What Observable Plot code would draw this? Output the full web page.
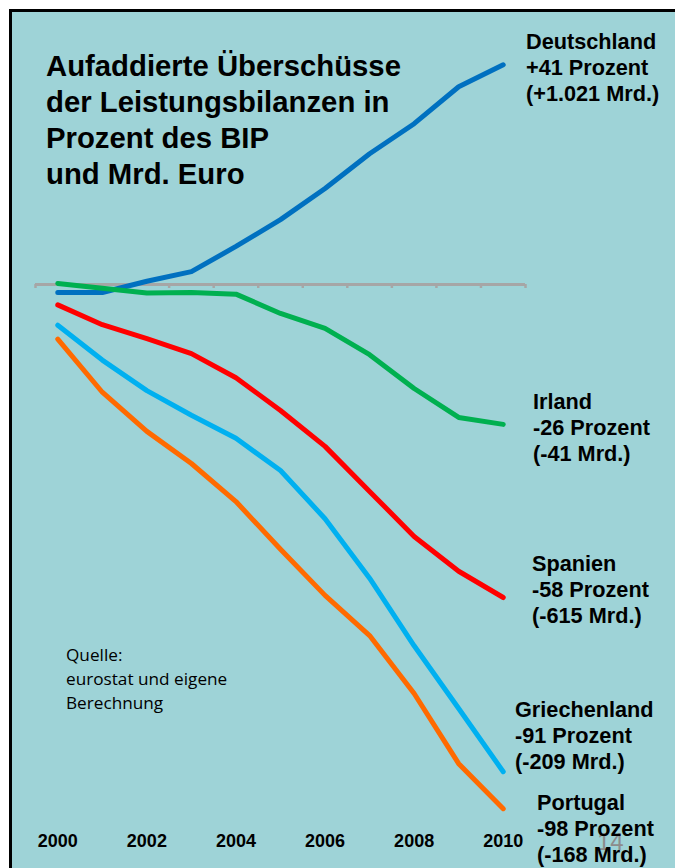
<!DOCTYPE html>
<html>
<head>
<meta charset="utf-8">
<script src="https://cdn.jsdelivr.net/npm/d3@7"></script>
<script src="https://cdn.jsdelivr.net/npm/@observablehq/plot@0.6"></script>
<style>
  html, body { margin: 0; padding: 0; width: 675px; height: 868px; overflow: hidden; background: #ffffff; }
  #frame { position: absolute; left: 9px; top: 9px; width: 720px; height: 920px; border: 3px solid #000; background: #9ed3d7; }
  #chart { position: absolute; left: 0; top: 0; }
  .t { position: absolute; white-space: nowrap; color: #000; font-family: "Liberation Sans", Arial, sans-serif; }
  .title { font-weight: bold; font-size: 29.3px; line-height: 36px; left: 46px; top: 47.5px; }
  .lab { font-weight: bold; font-size: 21.7px; line-height: 26px; }
  .src { font-family: "Open Sans", sans-serif; font-size: 17.2px; line-height: 24px; left: 66px; top: 643px; }
  .page { font-size: 24px; line-height: 24px; color: #8c8c8c; left: 597px; top: 830px; }
</style>
</head>
<body>
<div id="frame"></div>
<div class="t page">14</div>
<div id="chart"></div>
<div class="t title">Aufaddierte Überschüsse<br>der Leistungsbilanzen in<br>Prozent des BIP<br>und Mrd. Euro</div>
<div class="t src">Quelle:<br>eurostat und eigene<br>Berechnung</div>
<div id="labels"></div>
<script>
// Data (cumulated current-account balances, % of GDP)
const years = [2000, 2001, 2002, 2003, 2004, 2005, 2006, 2007, 2008, 2009, 2010];
const deutschland = [-1.5, -1.5, 0.6, 2.4, 7.1, 12.1, 17.9, 24.4, 30.0, 36.9, 41.0];
const irland      = [0.2, -0.7, -1.6, -1.5, -1.8, -5.4, -8.2, -13.1, -19.4, -24.8, -26.1];
const spanien     = [-3.8, -7.5, -10.1, -12.9, -17.4, -23.5, -30.2, -38.6, -47.0, -53.5, -58.4];
const griechenland= [-7.6, -14.1, -19.8, -24.4, -28.7, -34.7, -43.7, -54.8, -67.4, -79.1, -90.9];
const portugal    = [-10.2, -20.1, -27.4, -33.4, -40.5, -49.4, -58.0, -65.5, -76.3, -89.4, -97.8];
const countries = ["Deutschland", "Irland", "Spanien", "Griechenland", "Portugal"];
const seriesValues = [deutschland, irland, spanien, griechenland, portugal];
const colors = ["#0070c0", "#00b050", "#ff0000", "#00b0f0", "#ff6a00"];
const yearTicks = [2000, 2002, 2004, 2006, 2008, 2010];
const labelLines = [
  ["Deutschland", "+41 Prozent", "(+1.021 Mrd.)"],
  ["Irland", "-26 Prozent", "(-41 Mrd.)"],
  ["Spanien", "-58 Prozent", "(-615 Mrd.)"],
  ["Griechenland", "-91 Prozent", "(-209 Mrd.)"],
  ["Portugal", "-98 Prozent", "(-168 Mrd.)"]
];
const boundaries = years.map(y => y - 0.5).concat([years[years.length - 1] + 0.5]);

const rows = [];
countries.forEach((c, i) => years.forEach((y, j) => rows.push({country: c, year: y, value: seriesValues[i][j]})));

const plot = Plot.plot({
  width: 675,
  height: 868,
  marginLeft: 35,
  marginRight: 150,
  marginTop: 16,
  marginBottom: 21.2,
  style: {background: "transparent", overflow: "visible"},
  x: {domain: [1999.5, 2010.5], axis: null},
  y: {domain: [-105, 50], axis: null},
  color: {domain: countries, range: colors},
  marks: [
    Plot.ruleY([0], {x1: 1999.5, x2: 2010.5, stroke: "#a6a6a6", strokeWidth: 3}),
    Plot.ruleX(boundaries, {x: d => d, y1: 0, y2: 0, insetBottom: -4, stroke: "#a6a6a6", strokeWidth: 2.5}),
    Plot.line(rows, {x: "year", y: "value", z: "country", stroke: "country", strokeWidth: 5, strokeLinecap: "round", strokeLinejoin: "round"}),
    Plot.axisX(yearTicks, {label: null, tickSize: 0, tickPadding: 0, tickFormat: d => String(d), fontSize: 18, fontWeight: "bold", fontFamily: "Liberation Sans, Arial, sans-serif", fill: "#000", dy: -13})
  ]
});
document.getElementById("chart").appendChild(plot);

// End labels (annotation positions)
const labelPos = [[526, 28.5], [533, 388.5], [532, 550.5], [515, 696.5], [537, 789.5]];
const holder = document.getElementById("labels");
labelLines.forEach((lines, i) => {
  const d = document.createElement("div");
  d.className = "t lab";
  d.style.left = labelPos[i][0] + "px";
  d.style.top = labelPos[i][1] + "px";
  d.innerHTML = lines.join("<br>");
  holder.appendChild(d);
});
</script>
</body>
</html>
